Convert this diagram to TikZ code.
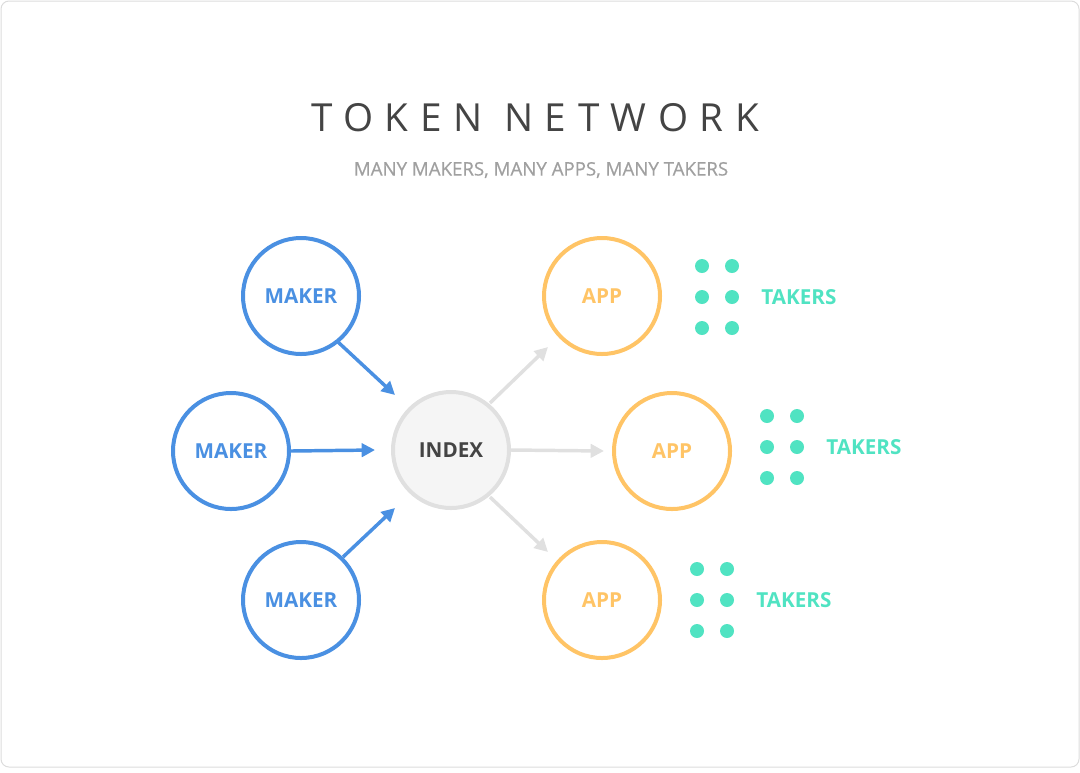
\documentclass[tikz,border=0pt]{standalone}
\usepackage{fontspec}
\setmainfont{Open Sans}
\usepackage{xcolor}
\definecolor{makerblue}{RGB}{74, 144, 226}
\definecolor{appyellow}{RGB}{255, 196, 102}
\definecolor{takergreen}{RGB}{80, 227, 194}
\definecolor{indexgray}{RGB}{224, 224, 224}
\definecolor{indexfill}{RGB}{245, 245, 245}
\definecolor{titlegray}{RGB}{68, 68, 68}
\definecolor{subgray}{RGB}{160, 160, 160}
\definecolor{framegray}{RGB}{220, 220, 220}
\usetikzlibrary{arrows.meta,positioning}

\begin{document}
\begin{tikzpicture}[x=0.75pt, y=-0.75pt]
    % Define styles
    \tikzset{
        hub/.style = {circle, line width=3pt, minimum size=87pt, inner sep=0pt, font=\bfseries\fontsize{15.5}{18}\selectfont},
        maker/.style = {hub, draw=makerblue, text=makerblue},
        app/.style = {hub, draw=appyellow, text=appyellow},
        index/.style = {hub, draw=indexgray, fill=indexfill, text=titlegray},
        dot/.style = {circle, fill=takergreen, minimum size=10.5pt, inner sep=0pt},
        takers/.style = {text=takergreen, font=\bfseries\fontsize{15.5}{18}\selectfont},
        feed/.style = {-{Triangle[length=10pt, width=10pt]}, line width=2.6pt, makerblue},
        serve/.style = {-{Triangle[length=10pt, width=10pt]}, line width=2.6pt, indexgray}
    }

    % Frame
    \draw[framegray, line width=0.75pt, rounded corners=6pt] (1,1) rectangle (1079,767);
    \useasboundingbox (0,0) rectangle (1080,772);

    % Titles
    \node[text=titlegray, font=\fontsize{29}{32}\selectfont\addfontfeature{LetterSpace=30}] (title) at (535,118) {TOKEN NETWORK};
    \node[text=subgray, font=\fontsize{14}{16}\selectfont\addfontfeature{FakeBold=0.6}] (subtitle) at (541,170) {MANY MAKERS, MANY APPS, MANY TAKERS};

    % Nodes
    \node[index] (index) at (451,450) {INDEX};
    \node[maker] (maker1) at (301,296) {MAKER};
    \node[maker] (maker2) at (231,451) {MAKER};
    \node[maker] (maker3) at (301,600) {MAKER};
    \node[app] (app1) at (602,296) {APP};
    \node[app] (app2) at (672,451) {APP};
    \node[app] (app3) at (602,600) {APP};

    % Takers
    \foreach \i/\x/\y in {1/702/266, 2/767/416, 3/697/569} {
        \foreach \r in {0,1,2} {
            \node[dot] (dot\i a\r) at (\x, \y+31*\r) {};
            \node[dot] (dot\i b\r) at (\x+30, \y+31*\r) {};
        }
        \node[takers, right=13pt of dot\i b1] (takers\i) {TAKERS};
    }

    % Connections
    \draw[feed] ([shift={(37,46)}]maker1.center) -- ([shift={(-56,-55)}]index.center);
    \draw[feed] (maker2.east) -- ([xshift=-12pt]index.west);
    \draw[feed] ([shift={(42,-43)}]maker3.center) -- ([shift={(-56,58)}]index.center);
    \draw[serve] ([shift={(39,-47)}]index.center) -- ([shift={(-54,51)}]app1.center);
    \draw[serve] (index.east) -- ([xshift=-6pt]app2.west);
    \draw[serve] ([shift={(39,47)}]index.center) -- ([shift={(-54,-48)}]app3.center);
\end{tikzpicture}
\end{document}
